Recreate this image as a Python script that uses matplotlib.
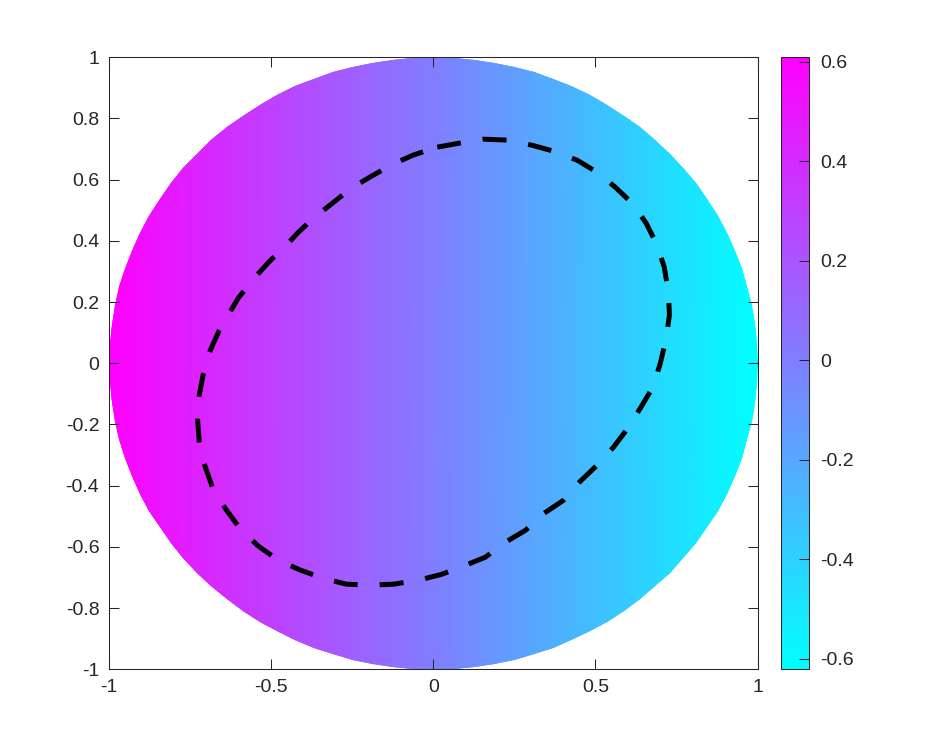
import numpy as np
import matplotlib
matplotlib.use('Agg')
import matplotlib.pyplot as plt
from matplotlib.patches import Polygon

plt.rcParams['font.family'] = ['Liberation Sans', 'DejaVu Sans']
plt.rcParams['axes.unicode_minus'] = False

# colour value across the disk, read along x (it barely changes with y)
field_x = [-1.0, -0.5, 0.0, 0.5, 1.0]
field_v = [0.609, 0.30, 0.0, -0.31, -0.6215]
clim = (-0.6215, 0.6094)

# dashed closed curve (clockwise from the top)
curve_x = [0.012, 0.080, 0.154, 0.228, 0.305, 0.370, 0.444, 0.505, 0.561, 0.613,
           0.656, 0.690, 0.712, 0.725, 0.728, 0.718, 0.700, 0.677, 0.640, 0.600,
           0.555, 0.505, 0.450, 0.401, 0.342, 0.284, 0.222, 0.160, 0.092, 0.025,
           -0.046, -0.123, -0.194, -0.268, -0.339, -0.410, -0.478, -0.539, -0.592, -0.638,
           -0.678, -0.703, -0.721, -0.727, -0.723, -0.709, -0.688, -0.660, -0.640, -0.602,
           -0.555, -0.505, -0.450, -0.419, -0.370, -0.311, -0.253, -0.191, -0.126, -0.062]
curve_y = [0.706, 0.719, 0.732, 0.729, 0.712, 0.693, 0.663, 0.624, 0.575, 0.523,
           0.458, 0.386, 0.314, 0.232, 0.157, 0.082, 0.000, -0.078, -0.144, -0.212,
           -0.275, -0.333, -0.389, -0.448, -0.490, -0.546, -0.585, -0.634, -0.663, -0.690,
           -0.709, -0.722, -0.725, -0.722, -0.703, -0.676, -0.644, -0.598, -0.546, -0.480,
           -0.415, -0.340, -0.268, -0.186, -0.111, -0.033, 0.042, 0.108, 0.144, 0.212,
           0.275, 0.333, 0.389, 0.425, 0.474, 0.523, 0.572, 0.611, 0.650, 0.680]

xticks = [-1, -0.5, 0, 0.5, 1]
yticks = [-1, -0.8, -0.6, -0.4, -0.2, 0, 0.2, 0.4, 0.6, 0.8, 1]
cticks = [-0.6, -0.4, -0.2, 0, 0.2, 0.4, 0.6]

dark = (0.15, 0.15, 0.15)

fig = plt.figure(figsize=(9.4, 7.52), dpi=100)
ax = fig.add_axes([0.116, 0.110, 0.690, 0.814])
cax = fig.add_axes([0.831, 0.110, 0.030, 0.814])

gx = np.linspace(-1, 1, 401)
gy = np.array([-1.0, 1.0])
X, Y = np.meshgrid(gx, gy)
Z = np.tile(np.interp(gx, field_x, field_v), (len(gy), 1))
mesh = ax.pcolormesh(X, Y, Z, cmap='cool', vmin=clim[0], vmax=clim[1], shading='gouraud')

# faceted disk outline used as clip
theta = np.linspace(0, 2 * np.pi, 100, endpoint=False)
disk = Polygon(np.c_[np.cos(theta), np.sin(theta)], closed=True,
               facecolor='none', edgecolor='none', transform=ax.transData)
ax.add_patch(disk)
mesh.set_clip_path(disk)

ax.plot(curve_x + curve_x[:1], curve_y + curve_y[:1], color='k', lw=3.6,
        dashes=(4.8, 4.4), dash_capstyle='butt', solid_joinstyle='round')

ax.set_xlim(-1, 1)
ax.set_ylim(-1, 1)
ax.set_xticks(xticks)
ax.set_xticklabels(['%g' % v for v in xticks])
ax.set_yticks(yticks)
ax.set_yticklabels(['%g' % v for v in yticks])
ax.tick_params(direction='in', top=True, right=True, length=7, width=0.75,
               color=dark, labelcolor=dark, labelsize=14, pad=7)
for s in ax.spines.values():
    s.set_linewidth(0.75)
    s.set_color(dark)

cb = fig.colorbar(mesh, cax=cax)
cb.set_ticks(cticks)
cb.set_ticklabels(['%g' % v for v in cticks])
cax.tick_params(direction='in', length=7, width=0.75, color=dark,
                labelcolor=dark, labelsize=14, pad=8)
cb.outline.set_linewidth(0.75)
cb.outline.set_edgecolor(dark)

fig.savefig('out.png', dpi=100)
